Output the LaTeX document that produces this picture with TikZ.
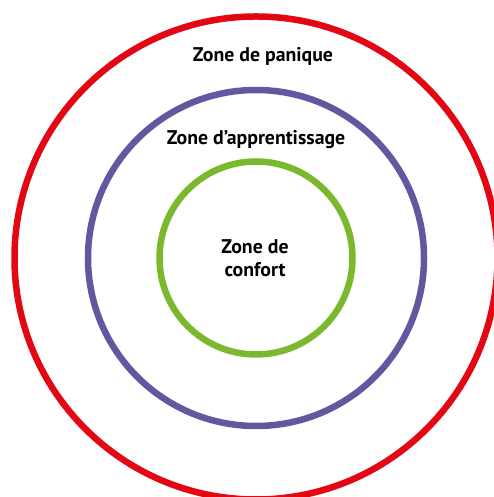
\documentclass[tikz,border=0pt]{standalone}
\usepackage{fontspec}
\setmainfont{PT Sans}
\usepackage{tikz}
\definecolor{paniquered}{HTML}{E30613}
\definecolor{apprentpurple}{HTML}{6656A0}
\definecolor{confortgreen}{HTML}{7AB82E}
\tikzset{zone ring/.style={line width=6.5pt},
  zone label/.style={font=\bfseries\fontsize{19.8}{22.5}\selectfont, align=center}
}

\begin{document}
\begin{tikzpicture}[x=1pt,y=1pt]
            \useasboundingbox (0,0) rectangle (493,497);
            \draw[zone ring, paniquered] (256,239) circle (241.5);
            \draw[zone ring, apprentpurple] (256,239) circle (168);
            \draw[zone ring, confortgreen] (256,239) circle (96.5);

            \node[zone label, anchor=base] (panique) at (263, 435) {Zone de panique};
            \node[zone label, anchor=base] (apprent) at (256, 352) {Zone d’apprentissage};
            \node[zone label] (confort) at (255, 239) {Zone de\\confort};
        \end{tikzpicture}
\end{document}
